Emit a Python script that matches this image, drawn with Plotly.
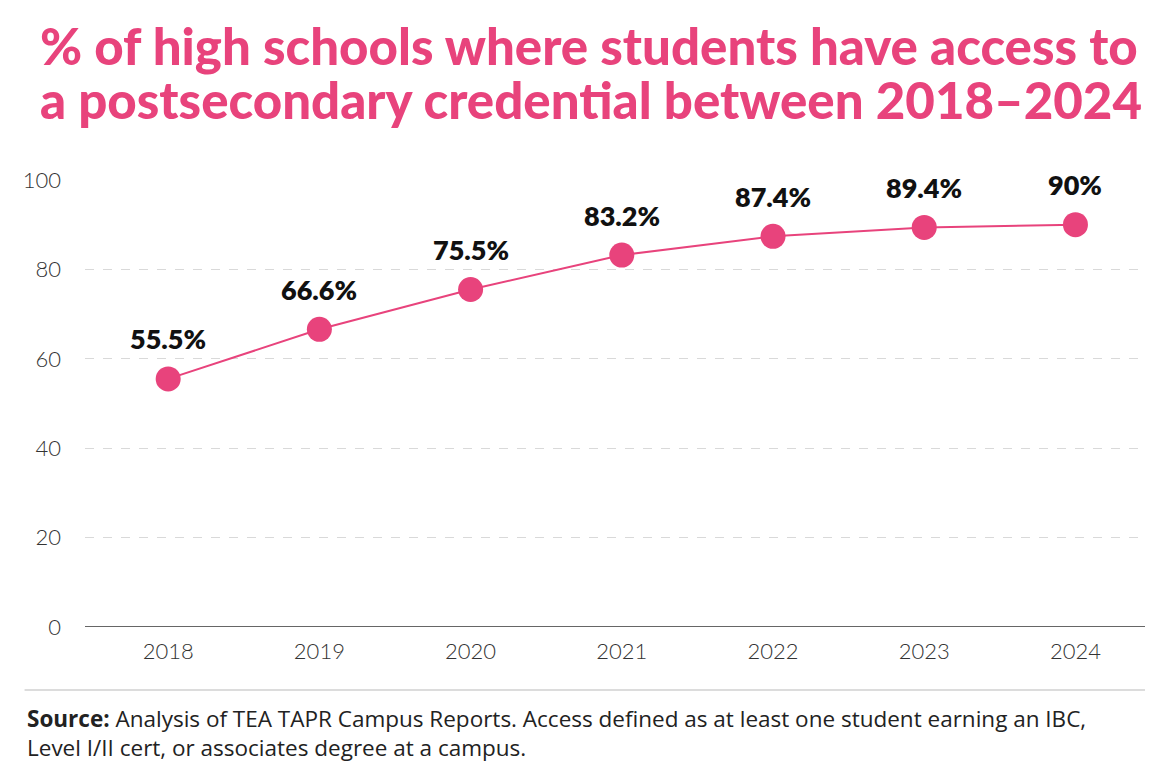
import plotly.graph_objects as go

# --- data ---
years = ["2018", "2019", "2020", "2021", "2022", "2023", "2024"]
pct = [55.5, 66.6, 75.5, 83.2, 87.4, 89.4, 90.0]
labels = ["55.5%", "66.6%", "75.5%", "83.2%", "87.4%", "89.4%", "90%"]
y_ticks = [0, 20, 40, 60, 80, 100]

title_lines = [
    "% of high schools where students have access to",
    "a postsecondary credential between 2018–2024",
]
source_text = ("<b>Source:</b> Analysis of TEA TAPR Campus Reports. Access defined as at least one student earning an IBC,"
               "<br>Level I/II cert, or associates degree at a campus.")

pink = "#E8437C"

fig = go.Figure(go.Scatter(
    x=years, y=pct,
    mode="lines+markers",
    line=dict(color=pink, width=2),
    marker=dict(color=pink, size=25),
    cliponaxis=False,
    hoverinfo="skip",
))

# value labels above each point (category index on x)
annos = [
    dict(x=i, y=v, text=t, showarrow=False, yshift=40,
         font=dict(family="Lato", size=27, color="#111111", weight=800))
    for i, (v, t) in enumerate(zip(pct, labels))
]
# title, two lines set tight (tighter than plotly's <br> spacing)
for txt, yp in zip(title_lines, [1.302, 1.179]):
    annos.append(dict(xref="paper", yref="paper", x=-0.0443, y=yp,
                      xanchor="left", yanchor="middle", showarrow=False, text=txt,
                      font=dict(family="Lato", size=51, color=pink, weight=900)))
# source note
annos.append(dict(xref="paper", yref="paper", x=-0.0566, y=-0.238,
                  xanchor="left", yanchor="middle", align="left", showarrow=False,
                  text=source_text,
                  font=dict(family="Open Sans", size=22.5, color="#222222")))

# page body adds ~8px margin, so the figure is sized a bit smaller
fig.update_layout(
    width=1159, height=770,
    margin=dict(l=77, r=22, t=172, b=151, autoexpand=False),
    paper_bgcolor="white", plot_bgcolor="white",
    showlegend=False,
    font=dict(family="Lato", color="#333333"),
    xaxis=dict(
        type="category", range=[-0.55, 6.46], automargin=False,
        showgrid=False, showline=False, zeroline=False,
        ticks="", tickfont=dict(size=22, color="#333333", weight=300),
        ticklabelstandoff=9,
    ),
    yaxis=dict(
        range=[0, 100], tickvals=y_ticks, automargin=False,
        showgrid=True, gridcolor="#d9d9d9", griddash="dash", gridwidth=1,
        zeroline=False, showline=False, ticks="",
        tickfont=dict(size=22, color="#333333", weight=300),
        ticklabelstandoff=23,
    ),
    shapes=[
        dict(type="line", xref="paper", yref="y", x0=0, x1=1, y0=0, y1=0,
             line=dict(color="#333333", width=1.5)),
        dict(type="line", xref="paper", yref="paper", x0=-0.057, x1=1.0,
             y0=-0.141, y1=-0.141, line=dict(color="#d0d0d0", width=1.5)),
    ],
    annotations=annos,
)

fig.write_html("out.html")
